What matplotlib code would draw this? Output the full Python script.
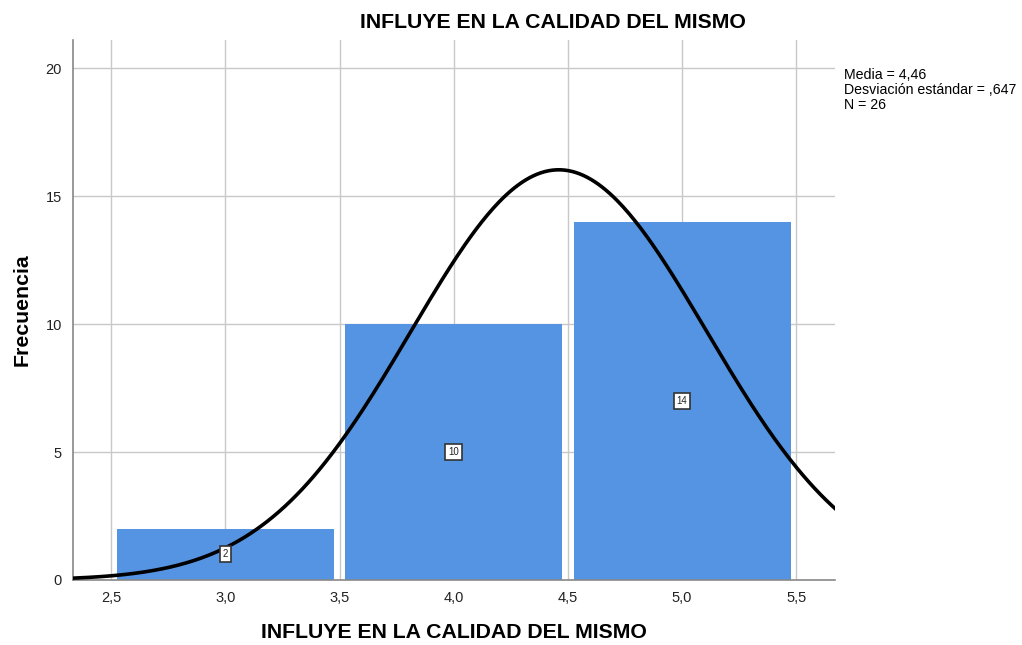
import numpy as np
import matplotlib
matplotlib.use("Agg")
import matplotlib.pyplot as plt

plt.rcParams['font.family'] = ['Liberation Sans', 'DejaVu Sans']

categories = [3.0, 4.0, 5.0]
counts = [2, 10, 14]
mean = 4.46
std = 0.647
n = 26
xticks = [2.5, 3.0, 3.5, 4.0, 4.5, 5.0, 5.5]
xticklabels = ['2,5', '3,0', '3,5', '4,0', '4,5', '5,0', '5,5']
yticks = [0, 5, 10, 15, 20]
title = 'INFLUYE EN LA CALIDAD DEL MISMO'

fig = plt.figure(figsize=(10.22, 6.45), dpi=100)
ax = fig.add_axes([0.0714, 0.1008, 0.746, 0.837])

ax.set_xlim(2.333, 5.671)
ax.set_ylim(0, 21.1)

for x in xticks:
    ax.axvline(x, color='#c8c8c8', lw=1.0, zorder=0)
for y in yticks[1:]:
    ax.axhline(y, color='#c8c8c8', lw=1.0, zorder=0)

bars = ax.bar(categories, counts, width=0.95, color='#5594e2', zorder=2)
for xc, c in zip(categories, counts):
    ax.text(xc, c / 2, str(c), ha='center', va='center', fontsize=7, color='#222222',
            zorder=4, bbox=dict(boxstyle='square,pad=0.3', fc='white', ec='#333333', lw=1.2))

xs = np.linspace(2.333, 5.671, 400)
ys = n * 1.0 * np.exp(-0.5 * ((xs - mean) / std) ** 2) / (std * np.sqrt(2 * np.pi))
ax.plot(xs, ys, color='black', lw=2.6, zorder=3)

ax.set_xticks(xticks)
ax.set_xticklabels(xticklabels)
ax.set_yticks(yticks)
ax.tick_params(axis='both', length=0, labelsize=10.5, colors='#222222', pad=8)
for s in ['top', 'right']:
    ax.spines[s].set_visible(False)
ax.spines['left'].set_color('#888888')
ax.spines['bottom'].set_color('#888888')
ax.spines['left'].set_linewidth(1.2)
ax.spines['bottom'].set_linewidth(1.2)

fig.text(553 / 1022, 1 - 23 / 645, title, fontsize=15.3, fontweight='bold',
         ha='center', va='center')
ax.set_xlabel(title, fontsize=15.3, fontweight='bold', labelpad=13)
ax.set_ylabel('Frecuencia', fontsize=15.3, fontweight='bold', labelpad=10)

fig.text(0.826, 1 - 68 / 645, 'Media = 4,46\nDesviación estándar = ,647\nN = 26',
         fontsize=10.2, va='top', ha='left', linespacing=1.1)

fig.savefig('out.png', dpi=100)
